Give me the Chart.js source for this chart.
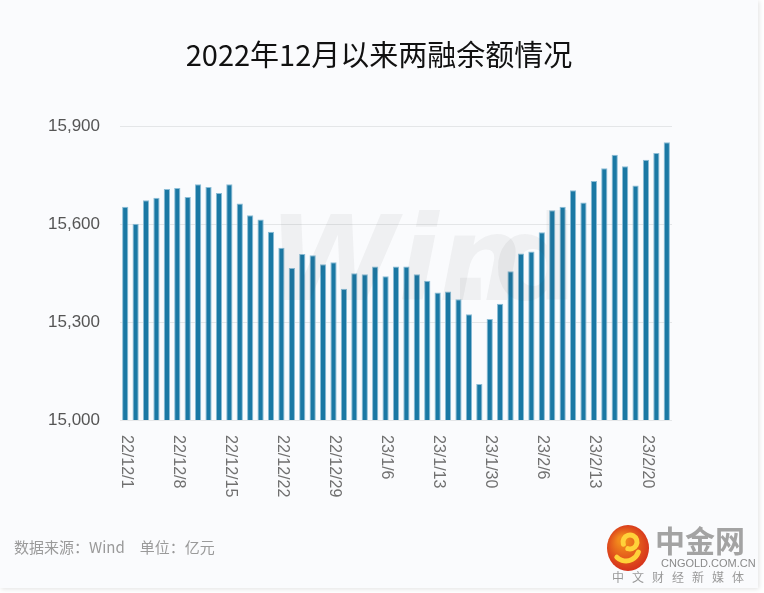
<!DOCTYPE html>
<html>
<head>
<meta charset="utf-8">
<script src="https://cdn.jsdelivr.net/npm/chart.js@4/dist/chart.umd.min.js"></script>
<style>
  html, body { margin: 0; padding: 0; background: #ffffff; }
  canvas { display: block; }
</style>
</head>
<body>
<canvas id="myChart" width="764" height="593"></canvas>
<script>
// trading days shown in the chart
var dates = [
  "22/12/1", "22/12/2", "22/12/5", "22/12/6", "22/12/7", "22/12/8", "22/12/9",
  "22/12/12", "22/12/13", "22/12/14", "22/12/15", "22/12/16", "22/12/19", "22/12/20",
  "22/12/21", "22/12/22", "22/12/23", "22/12/26", "22/12/27", "22/12/28", "22/12/29",
  "22/12/30", "23/1/3", "23/1/4", "23/1/5", "23/1/6", "23/1/9", "23/1/10",
  "23/1/11", "23/1/12", "23/1/13", "23/1/16", "23/1/17", "23/1/18", "23/1/19",
  "23/1/30", "23/1/31", "23/2/1", "23/2/2", "23/2/3", "23/2/6", "23/2/7",
  "23/2/8", "23/2/9", "23/2/10", "23/2/13", "23/2/14", "23/2/15", "23/2/16",
  "23/2/17", "23/2/20", "23/2/21", "23/2/22"
];

// margin balance, 亿元
var balance = [
  15653, 15601, 15673, 15680, 15707, 15710, 15683,
  15722, 15713, 15695, 15722, 15663, 15627, 15614,
  15576, 15527, 15465, 15508, 15504, 15477, 15483,
  15402, 15449, 15446, 15470, 15440, 15470, 15470,
  15446, 15426, 15390, 15393, 15370, 15324, 15110,
  15309, 15356, 15455, 15510, 15516, 15575, 15642,
  15653, 15703, 15666, 15732, 15771, 15812, 15777,
  15718, 15797, 15817, 15850
];

var tickDates = ["22/12/1", "22/12/8", "22/12/15", "22/12/22", "22/12/29", "23/1/6",
  "23/1/13", "23/1/30", "23/2/6", "23/2/13", "23/2/20"];
var yTicks = [15000, 15300, 15600, 15900];

var titleText = "2022年12月以来两融余额情况";
var sourceText = "数据来源：Wind　单位：亿元";

var decorPlugin = {
  id: "decor",
  beforeDraw: function (chart) {
    var c = chart.ctx;
    c.save();
    c.fillStyle = "#ffffff";
    c.fillRect(0, 0, chart.width, chart.height);
    c.shadowColor = "rgba(0,0,0,0.12)";
    c.shadowBlur = 5;
    c.shadowOffsetX = 1;
    c.shadowOffsetY = 1;
    c.fillStyle = "#fafbfd";
    c.fillRect(0, 0, 758, 588);
    c.restore();
  },
  afterDatasetsDraw: function (chart) {
    var c = chart.ctx;
    // faint watermark
    c.save();
    c.fillStyle = "rgba(60,60,60,0.06)";
    c.font = "bold italic 118px 'DejaVu Sans'";
    c.textBaseline = "alphabetic";
    c.fillText("Win", 268, 300);
    c.font = "bold 118px 'DejaVu Sans'";
    c.fillText(".d", 448, 300);
    c.restore();
  },
  afterDraw: function (chart) {
    var c = chart.ctx;
    var x = chart.scales.x;
    c.save();
    // title
    c.fillStyle = "#111111";
    c.font = "29px 'Noto Sans CJK SC'";
    c.textAlign = "center";
    c.textBaseline = "middle";
    c.fillText(titleText, 379, 55);

    // rotated date labels, reading top to bottom
    c.fillStyle = "#707070";
    c.font = "16px 'Liberation Sans'";
    c.textAlign = "left";
    c.textBaseline = "middle";
    dates.forEach(function (d, i) {
      if (tickDates.indexOf(d) < 0) return;
      var px = x.getPixelForValue(i);
      c.save();
      c.translate(px + 1, 435);
      c.rotate(Math.PI / 2);
      c.fillText(d, 0, 0);
      c.restore();
    });

    // footer
    c.fillStyle = "#9a9a9a";
    c.font = "15px 'Noto Sans CJK SC'";
    c.textAlign = "left";
    c.fillText(sourceText, 14, 547);

    // logo
    var g = c.createRadialGradient(622, 540, 4, 628, 548, 26);
    g.addColorStop(0, "#f28a1c");
    g.addColorStop(1, "#d2261c");
    c.fillStyle = g;
    c.beginPath();
    c.ellipse(628, 548, 21, 23, 0, 0, Math.PI * 2);
    c.fill();
    c.strokeStyle = "#ffd23a";
    c.lineWidth = 5;
    c.lineCap = "round";
    c.beginPath();
    c.arc(630, 542, 7, Math.PI * 0.9, Math.PI * 2.6);
    c.stroke();
    c.beginPath();
    c.arc(626, 548, 13, Math.PI * 0.1, Math.PI * 0.75);
    c.stroke();

    c.fillStyle = "#a3a3a3";
    c.font = "bold 30px 'Noto Sans CJK SC'";
    c.textAlign = "left";
    c.fillText("中金网", 655, 541);
    c.font = "11px 'Liberation Sans'";
    c.fillStyle = "#8a8a8a";
    c.fillText("CNGOLD.COM.CN", 661, 564);
    c.font = "12px 'Noto Sans CJK SC'";
    c.fillStyle = "#9a9a9a";
    var sub = "中文财经新媒体";
    for (var k = 0; k < sub.length; k++) {
      c.fillText(sub[k], 612 + k * 20, 577);
    }
    c.restore();
  }
};

var ctx = document.getElementById("myChart").getContext("2d");
var myChart = new Chart(ctx, {
  type: "bar",
  data: {
    labels: dates,
    datasets: [
      {
        data: balance,
        backgroundColor: "#1a78a4",
        borderColor: "#8cbdd6",
        borderWidth: 1,
        borderSkipped: false,
        barPercentage: 0.6,
        categoryPercentage: 1.0,
      },
    ],
  },
  options: {
    responsive: false,
    animation: false,
    layout: { padding: { top: 126, right: 92, left: 0, bottom: 0 } },
    plugins: {
      legend: { display: false },
      tooltip: { enabled: false },
    },
    scales: {
      x: {
        offset: true,
        grid: { display: false },
        border: { display: false },
        ticks: { display: false },
        afterFit: function (scale) { scale.height = 173; },
      },
      y: {
        min: 15000,
        max: 15900,
        afterBuildTicks: function (scale) {
          scale.ticks = yTicks.map(function (v) { return { value: v }; });
        },
        afterFit: function (scale) { scale.width = 120; },
        grid: { color: "#e4e6e8", lineWidth: 1, drawTicks: false },
        border: { display: false },
        ticks: {
          padding: 20,
          color: "#555555",
          font: { size: 17, family: "'Liberation Sans'" },
          callback: function (v) { return v.toLocaleString("en-US"); },
        },
      },
    },
  },
  plugins: [decorPlugin],
});
</script>
</body>
</html>
